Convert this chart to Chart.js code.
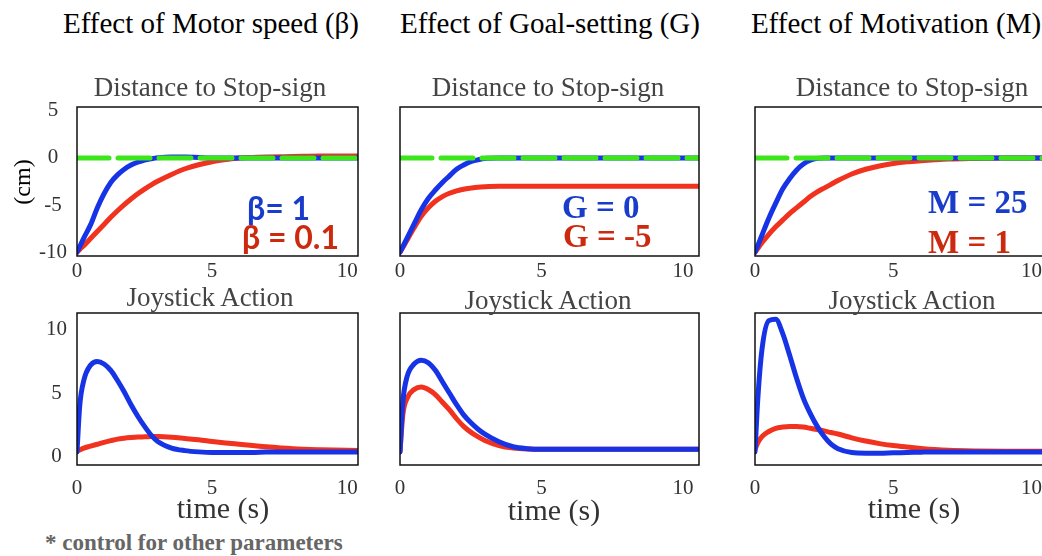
<!DOCTYPE html>
<html>
<head>
<meta charset="utf-8">
<script src="https://cdn.jsdelivr.net/npm/chart.js@4"></script>
<style>
  html, body { margin: 0; padding: 0; background: #fff; overflow: hidden; }
  body { width: 1042px; height: 556px; position: relative; }
  canvas { position: absolute; }
  .t { position: absolute; white-space: nowrap; line-height: 1; font-family: "Liberation Serif", serif; }
  .c { text-align: center; width: 600px; }
</style>
</head>
<body>

<script>
// time grid (s) shared by all curves
var time = [0, 0.1, 0.25, 0.5, 0.75, 1, 1.25, 1.5, 1.75, 2, 2.25, 2.5, 2.75, 3, 3.5, 4, 4.5, 5, 5.5, 6, 6.5, 7, 8, 9, 10, 11];

// Distance to stop-sign (cm)
var speedDistFast = [-10, -9.4, -8.5, -7.1, -5.3, -3.8, -2.6, -1.8, -1.2, -0.75, -0.45, -0.22, -0.08, 0.02, 0.1, 0.1, 0.05, 0, 0, 0, 0, 0, 0, 0, 0, 0];
var speedDistSlow = [-10, -9.7, -9.3, -8.55, -7.8, -7.05, -6.3, -5.6, -4.95, -4.35, -3.8, -3.3, -2.85, -2.45, -1.75, -1.15, -0.72, -0.4, -0.18, 0, 0.05, 0.1, 0.15, 0.2, 0.2, 0.2];
var goalDistZero = [-10, -9.4, -8.5, -7.0, -5.5, -4.3, -3.4, -2.6, -1.9, -1.2, -0.75, -0.4, -0.2, -0.05, 0, 0, 0, 0, 0, 0, 0, 0, 0, 0, 0, 0];
var goalDistNeg = [-10, -9.5, -8.7, -7.4, -6.2, -5.3, -4.6, -4.1, -3.75, -3.5, -3.32, -3.2, -3.1, -3.05, -3.0, -3.0, -3.0, -3.0, -3.0, -3.0, -3.0, -3.0, -3.0, -3.0, -3.0, -3.0];
var motivDistHigh = [-10, -9.3, -8.2, -6.4, -4.8, -3.3, -2.2, -1.3, -0.65, -0.25, -0.05, 0, 0, 0, 0, 0, 0, 0, 0, 0, 0, 0, 0, 0, 0, 0];
var motivDistLow = [-10, -9.6, -9.0, -8.1, -7.3, -6.6, -5.9, -5.3, -4.7, -4.1, -3.6, -3.2, -2.8, -2.4, -1.7, -1.2, -0.85, -0.6, -0.42, -0.3, -0.2, -0.12, -0.05, 0, 0, 0];
var stopTarget = [0, 0];
var stopTargetTime = [0, 11];

// Joystick action
var speedJoyFast = [0.4, 4.0, 6.0, 7.2, 7.5, 7.3, 6.8, 6.0, 5.1, 4.1, 3.2, 2.4, 1.7, 1.2, 0.7, 0.5, 0.4, 0.35, 0.35, 0.35, 0.35, 0.4, 0.4, 0.4, 0.4, 0.4];
var speedJoySlow = [0.45, 0.55, 0.7, 0.85, 1.0, 1.15, 1.28, 1.4, 1.47, 1.52, 1.56, 1.58, 1.6, 1.6, 1.55, 1.45, 1.35, 1.22, 1.1, 1.0, 0.9, 0.8, 0.65, 0.57, 0.52, 0.5];
var goalJoyZero = [0.4, 4.3, 6.3, 7.3, 7.6, 7.4, 6.8, 5.9, 5.0, 4.1, 3.3, 2.7, 2.2, 1.8, 1.2, 0.8, 0.65, 0.6, 0.6, 0.6, 0.6, 0.6, 0.6, 0.6, 0.6, 0.6];
var goalJoyNeg = [0.4, 3.3, 4.6, 5.3, 5.5, 5.3, 4.9, 4.3, 3.7, 3.0, 2.4, 1.95, 1.6, 1.3, 0.9, 0.7, 0.62, 0.6, 0.6, 0.6, 0.6, 0.6, 0.6, 0.6, 0.6, 0.6];
var motivJoyHigh = [0.4, 4.5, 8.4, 10.7, 10.8, 9.7, 8.0, 6.2, 4.6, 3.4, 2.4, 1.6, 1.0, 0.65, 0.35, 0.3, 0.3, 0.33, 0.35, 0.38, 0.4, 0.4, 0.4, 0.4, 0.4, 0.4];
var motivJoyLow = [0.6, 1.1, 1.6, 2.0, 2.25, 2.35, 2.4, 2.4, 2.35, 2.25, 2.15, 2.05, 1.92, 1.8, 1.5, 1.25, 1.05, 0.9, 0.78, 0.67, 0.58, 0.52, 0.47, 0.45, 0.45, 0.45];

var xTicks = [0, 5, 10];
var distTicks = [-10, -5, 0, 5];
var joyTicks = [0, 5, 10];

var BLUE = '#1733e6', RED = '#f0321e', GREEN = '#3de61a';

function pts(xs, ys) {
  return ys.map(function (v, i) { return { x: xs[i], y: v }; });
}

// black box around the plot area
var frame = {
  id: 'frame',
  afterDraw: function (chart) {
    var a = chart.chartArea, c = chart.ctx;
    c.save();
    c.strokeStyle = '#111';
    c.lineWidth = 1.5;
    c.strokeRect(a.left, a.top, a.right - a.left, a.bottom - a.top);
    c.restore();
  }
};

function noPad(s) {
  s.paddingLeft = 0; s.paddingRight = 0; s.paddingTop = 0; s.paddingBottom = 0;
}

function makePanel(box, opt) {
  var padL = opt.yTicks ? 60 : 20, padT = 15, padR = 3, padB = opt.padB;
  var cv = document.createElement('canvas');
  var w = box.r - box.l + padL + padR, h = box.b - box.t + padT + padB;
  cv.width = w; cv.height = h;
  cv.style.left = (box.l - padL) + 'px';
  cv.style.top = (box.t - padT) + 'px';
  document.body.appendChild(cv);

  var sets = [];
  if (opt.target) {
    sets.push({ data: pts(stopTargetTime, stopTarget), borderColor: GREEN, borderWidth: 5, borderDash: [32, 9] });
  }
  sets.push({ data: pts(time, opt.blue), borderColor: BLUE, borderWidth: 5 });
  sets.push({ data: pts(time, opt.red), borderColor: RED, borderWidth: 5 });

  var tickFont = { family: '"Liberation Serif", serif', size: 21 };
  new Chart(cv.getContext('2d'), {
    type: 'line',
    data: { datasets: sets },
    plugins: [frame],
    options: {
      responsive: false,
      animation: false,
      devicePixelRatio: 1,
      layout: { padding: { top: padT, right: padR, left: 0, bottom: 0 } },
      plugins: { legend: { display: false }, tooltip: { enabled: false } },
      elements: { point: { radius: 0 }, line: { cubicInterpolationMode: 'monotone', borderCapStyle: 'round' } },
      scales: {
        x: {
          type: 'linear', min: 0, max: box.xMax,
          grid: { display: false, drawTicks: false }, border: { display: false },
          ticks: { font: tickFont, color: '#333', padding: opt.xPad, maxRotation: 0 },
          afterBuildTicks: function (s) { s.ticks = xTicks.map(function (v) { return { value: v }; }); },
          afterFit: function (s) { s.height = padB; noPad(s); }
        },
        y: {
          min: opt.yMin, max: opt.yMax,
          grid: { display: false, drawTicks: false }, border: { display: false },
          ticks: { display: !!opt.yTicks, font: tickFont, color: '#333', padding: 10, crossAlign: 'center' },
          afterBuildTicks: function (s) { s.ticks = (opt.yTicks || []).map(function (v) { return { value: v }; }); },
          afterFit: function (s) { s.width = padL; noPad(s); }
        }
      }
    }
  });
}

var distRange = { yMin: -10.4, yMax: 5.4, padB: 30, xPad: 3, target: true };
var joyRange = { yMin: -0.63, yMax: 11.3, padB: 36, xPad: 11 };

function merge(a, b) { var o = {}; for (var k in a) o[k] = a[k]; for (var k2 in b) o[k2] = b[k2]; return o; }

makePanel({ l: 77, r: 358, t: 107, b: 256, xMax: 10.4 }, merge(distRange, { blue: speedDistFast, red: speedDistSlow, yTicks: distTicks }));
makePanel({ l: 400, r: 699, t: 107, b: 256, xMax: 10.57 }, merge(distRange, { blue: goalDistZero, red: goalDistNeg }));
makePanel({ l: 755, r: 1062, t: 107, b: 256, xMax: 11.1 }, merge(distRange, { blue: motivDistHigh, red: motivDistLow }));
makePanel({ l: 77, r: 358, t: 313, b: 465, xMax: 10.4 }, merge(joyRange, { blue: speedJoyFast, red: speedJoySlow, yTicks: joyTicks }));
makePanel({ l: 400, r: 699, t: 313, b: 465, xMax: 10.57 }, merge(joyRange, { blue: goalJoyZero, red: goalJoyNeg }));
makePanel({ l: 755, r: 1062, t: 313, b: 465, xMax: 11.1 }, merge(joyRange, { blue: motivJoyHigh, red: motivJoyLow }));

// text labels, placed by centre x (or left x) and baseline y
function label(txt, x, base, size, color, extra) {
  var d = document.createElement('div');
  d.className = 't' + (extra && extra.center ? ' c' : '');
  d.textContent = txt;
  d.style.fontSize = size + 'px';
  d.style.color = color;
  if (extra && extra.bold) d.style.fontWeight = 'bold';
  if (extra && extra.family) d.style.fontFamily = extra.family;
  d.style.left = (extra && extra.center ? x - 300 : x) + 'px';
  d.style.top = (base - 0.84 * size) + 'px';
  document.body.appendChild(d);
  return d;
}

label('Effect of Motor speed (β)', 211, 33, 29, '#000', { center: true });
label('Effect of Goal-setting (G)', 550, 33, 29, '#000', { center: true });
label('Effect of Motivation (M)', 896, 33, 29, '#000', { center: true });

[210, 548, 912].forEach(function (cx) { label('Distance to Stop-sign', cx, 97, 27, '#444', { center: true }); });
label('Joystick Action', 210, 307, 27, '#444', { center: true });
label('Joystick Action', 548, 310, 27, '#444', { center: true });
label('Joystick Action', 912, 310, 27, '#444', { center: true });

label('time (s)', 223, 518, 30, '#333', { center: true });
label('time (s)', 554, 520, 30, '#333', { center: true });
label('time (s)', 914, 518, 30, '#333', { center: true });

var cm = label('(cm)', 22, 182, 24, '#000', { center: true });
cm.style.top = (182 - 12) + 'px';
cm.style.transform = 'rotate(-90deg)';

label('β= 1', 247, 219, 32, '#1a3ccb', { bold: true, family: 'Lato' });
label('β = 0.1', 242, 248, 32, '#cc2a0e', { bold: true, family: 'Lato' });
label('G = 0', 562, 219, 33, '#1a3ccb', { bold: true });
label('G = -5', 563, 248, 33, '#cc2a0e', { bold: true });
label('M = 25', 928, 214, 33, '#1a3ccb', { bold: true });
label('M = 1', 928, 254, 33, '#cc2a0e', { bold: true });

label('* control for other parameters', 45, 550, 23, '#666', { bold: true });
</script>
</body>
</html>
